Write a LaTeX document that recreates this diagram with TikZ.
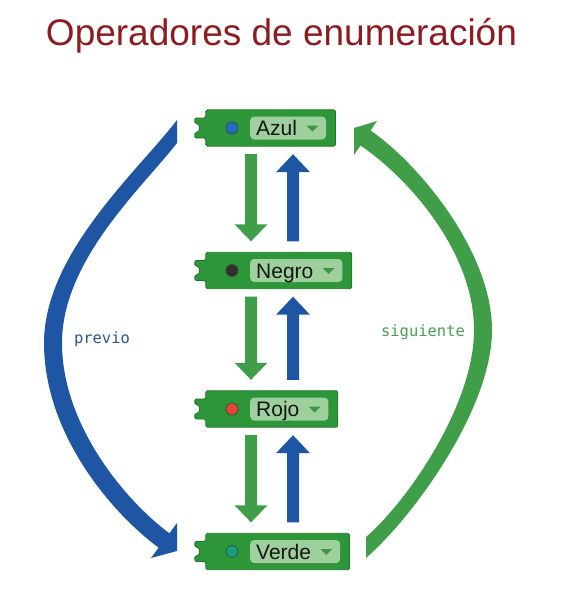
\documentclass[tikz,border=0pt]{standalone}
\usepackage{fontspec}
\setmainfont{Liberation Sans}
\newfontfamily\monof{DejaVu Sans Mono}
\usetikzlibrary{calc,fit,backgrounds}
\definecolor{titlered}{RGB}{142,27,31}
\definecolor{bigblue}{RGB}{31,86,163}
\definecolor{biggreen}{RGB}{64,158,72}
\definecolor{blockgreen}{RGB}{44,150,56}
\definecolor{blockdark}{RGB}{28,118,38}
\definecolor{fieldgreen}{RGB}{158,208,158}
\definecolor{tricol}{RGB}{60,150,70}
\definecolor{txtblack}{RGB}{20,20,20}
\definecolor{lblblue}{RGB}{40,85,150}
\definecolor{lblgreen}{RGB}{70,160,80}
\definecolor{cazul}{RGB}{30,110,200}
\definecolor{cnegro}{RGB}{50,50,50}
\definecolor{crojo}{RGB}{232,70,55}
\definecolor{cverde}{RGB}{20,160,120}
\newcommand\blk[4]{%
  \node[field, anchor=west] (f#1) at (250,#2) {#3\hspace*{23pt}};
  \node[dotstyle, fill=#4] (d#1) at (232,#2) {};
  \fill[tricol] ($(f#1.east)+(-20,-2.5)$) -- ($(f#1.east)+(-8,-2.5)$) -- ($(f#1.east)+(-14,3.5)$) -- cycle;
  \node[fit={(206,#2-18) ($(f#1.east)+(9,0)$) (206,#2+18)}, inner sep=0pt] (#1) {};
  \begin{pgfonlayer}{background}
    \filldraw[blockstyle] (#1.north west) -- (#1.north east) -- (#1.south east) -- (#1.south west)
      -- ($(#1.west)+(0,10)$) -- ($(#1.west)+(-11,10)$) -- ($(#1.west)+(-11,4.5)$)
      .. controls ($(#1.west)+(-5,4.5)$) and ($(#1.west)+(-5,-4.5)$) .. ($(#1.west)+(-11,-4.5)$)
      -- ($(#1.west)+(-11,-10)$) -- ($(#1.west)+(0,-10)$) -- cycle;
  \end{pgfonlayer}
}
\newcommand\arrdown[3]{%
  \fill[#1] ($(#2)+(-6,0)$) -- ($(#2)+(6,0)$) -- ($(#3)+(6,-17)$) -- ($(#3)+(16.5,-17)$) -- (#3)
    -- ($(#3)+(-16.5,-17)$) -- ($(#3)+(-6,-17)$) -- cycle;}
\newcommand\arrup[3]{%
  \fill[#1] ($(#2)+(-6,0)$) -- ($(#2)+(6,0)$) -- ($(#3)+(6,18)$) -- ($(#3)+(17,18)$) -- (#3)
    -- ($(#3)+(-17,18)$) -- ($(#3)+(-6,18)$) -- cycle;}
\begin{document}
\begin{tikzpicture}[x=1pt,y=-1pt,
  field/.style={rectangle, rounded corners=4pt, fill=fieldgreen, draw=none, minimum height=23pt,
    inner xsep=6pt, inner ysep=0pt, text height=17pt, text depth=2pt,
    font=\fontsize{21}{24}\selectfont, text=txtblack},
  dotstyle/.style={circle, minimum size=12pt, inner sep=0pt, draw=black!75, line width=0.6pt},
  blockstyle/.style={fill=blockgreen, draw=blockdark, line width=0.8pt, rounded corners=1.5pt},
  garrow/.style={fill=biggreen},
  barrow/.style={fill=bigblue},
  lbl/.style={anchor=base, font=\monof\fontsize{15.5}{18}\selectfont}]
\useasboundingbox (0,0) rectangle (577,592);
\node[anchor=base, font=\fontsize{37}{40}\selectfont, text=titlered] (title) at (281.5,45) {Operadores de enumeración};

\blk{azul}{128}{Azul}{cazul}
\blk{negro}{270.5}{Negro}{cnegro}
\blk{rojo}{409}{Rojo}{crojo}
\blk{verde}{551.5}{Verde}{cverde}

\coordinate (gx) at (251,0);
\coordinate (bx) at (293,0);

\coordinate (gs1) at ($(azul.south -| gx)+(0,8)$);
\coordinate (ge1) at ($(negro.north -| gx)+(0,-11)$);
\coordinate (bs1) at ($(negro.north -| bx)+(0,-11)$);
\coordinate (be1) at ($(azul.south -| bx)+(0,8)$);
\coordinate (gs2) at ($(negro.south -| gx)+(0,8)$);
\coordinate (ge2) at ($(rojo.north -| gx)+(0,-11)$);
\coordinate (bs2) at ($(rojo.north -| bx)+(0,-11)$);
\coordinate (be2) at ($(negro.south -| bx)+(0,8)$);
\coordinate (gs3) at ($(rojo.south -| gx)+(0,8)$);
\coordinate (ge3) at ($(verde.north -| gx)+(0,-11)$);
\coordinate (bs3) at ($(verde.north -| bx)+(0,-11)$);
\coordinate (be3) at ($(rojo.south -| bx)+(0,8)$);

\arrdown{garrow}{gs1}{ge1}
\arrup{barrow}{bs1}{be1}
\arrdown{garrow}{gs2}{ge2}
\arrup{barrow}{bs2}{be2}
\arrdown{garrow}{gs3}{ge3}
\arrup{barrow}{bs3}{be3}

% previo (blue, from Azul down to Verde)
\fill[bigblue] (177,120) .. controls (139,170) and (44,253) .. (44,343)
  .. controls (44,433) and (110.4,511.9) .. (158.6,547.7)
  -- (151,558) -- (177,551) -- (177,523) -- (169.4,533.3)
  .. controls (125.2,500.5) and (62,425) .. (62,343)
  .. controls (62,260) and (142,188) .. (177,143) -- cycle;

% siguiente (green, from Verde up to Azul)
\fill[biggreen] (366,537) .. controls (407.6,501.1) and (474,405) .. (474,330)
  .. controls (474,250) and (406,176.3) .. (360.5,145.5)
  -- (354,155) -- (354,128) -- (377,121) -- (370.5,130.5)
  .. controls (416,161.3) and (492,250) .. (492,330)
  .. controls (492,410) and (411.4,518.8) .. (366,558) -- cycle;

\node[lbl, text=lblblue] (lprev) at (102,343) {previo};
\node[lbl, text=lblgreen] (lsig) at (423,336) {siguiente};
\end{tikzpicture}
\end{document}
